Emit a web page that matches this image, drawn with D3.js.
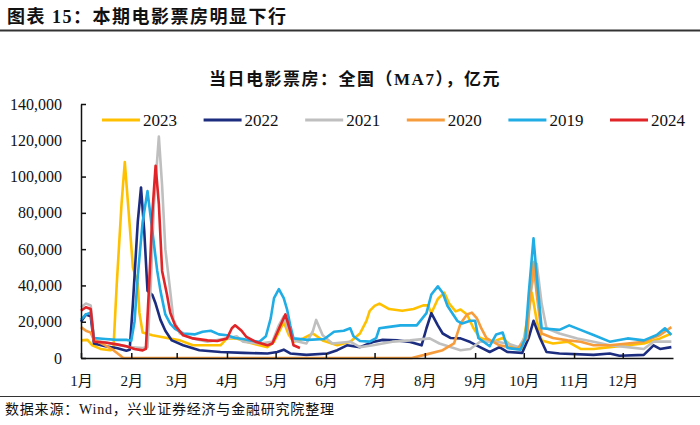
<!DOCTYPE html>
<html><head><meta charset="utf-8">
<script src="https://cdn.jsdelivr.net/npm/d3@7"></script>
<style>
body{margin:0;background:#fff;}
svg{display:block;}
</style></head>
<body>
<svg id="c" width="700" height="425"></svg>
<script>
// ---- data (day of year, value) ----
const monthLabels = ["1月","2月","3月","4月","5月","6月","7月","8月","9月","10月","11月","12月"];
const monthStarts = [0,31,59,90,120,151,181,212,243,273,304,334];
const yTicks = [0,20000,40000,60000,80000,100000,120000,140000];
const seriesNames = ["2023","2022","2021","2020","2019","2024"];

const s2023 = [[0,9700],[4,10000],[7,7000],[12,5000],[18,4300],[20,5000],[22,40000],[25,85000],[27,108000],[29,85000],[32,50000],[35,41000],[36,25000],[38,14000],[44,12500],[53,11000],[61,9700],[69,7000],[78,7000],[86,7000],[90,10800],[96,10800],[102,9000],[110,7000],[115,6000],[119,9000],[123,16000],[125,20000],[128,13000],[131,9000],[137,10800],[143,13500],[149,9700],[158,7000],[166,9000],[172,13500],[176,20500],[178,26000],[181,28700],[184,30000],[190,27000],[198,26000],[205,27000],[211,29000],[214,29000],[216,24700],[220,32500],[224,36000],[227,30000],[231,25700],[234,26700],[238,24000],[242,16400],[246,11000],[254,9000],[260,11000],[266,6000],[272,5000],[275,20500],[278,36000],[281,20500],[284,9700],[291,8000],[300,9000],[308,5000],[316,5000],[326,6000],[337,7000],[347,8000],[357,10800],[364,13500]];
const s2022 = [[0,20000],[3,24000],[6,23000],[8,8000],[15,6500],[22,5500],[28,4000],[30,4500],[32,30000],[35,75000],[37,94000],[39,70000],[41,37000],[44,34700],[46,30000],[49,21000],[52,15000],[56,9700],[63,7000],[73,4300],[86,3300],[100,2800],[115,2500],[121,3300],[125,4600],[129,2500],[139,1700],[152,2500],[158,4300],[164,7000],[172,6000],[180,8800],[186,10000],[195,9700],[203,8800],[210,7000],[213,16400],[216,24700],[220,18000],[223,13500],[228,11000],[234,10800],[240,8800],[246,6000],[252,3300],[258,6000],[263,3300],[272,2800],[276,11000],[279,20500],[283,11000],[287,3300],[295,2500],[316,1700],[326,2500],[332,1200],[347,1700],[353,7000],[357,5000],[364,6000]];
const s2021 = [[0,28000],[3,30000],[6,29000],[8,10000],[15,8500],[22,7500],[30,6000],[38,5500],[41,6000],[43,40000],[45,85000],[48,122000],[50,95000],[52,60000],[55,37000],[57,21000],[61,13600],[69,10800],[78,9000],[90,10800],[96,12000],[100,9000],[110,8000],[118,9000],[122,18000],[125,23000],[128,15000],[131,9700],[139,8000],[143,15000],[145,21000],[149,12500],[155,8000],[166,9000],[172,6000],[180,7000],[192,9000],[203,9700],[215,10800],[221,8000],[234,4300],[240,5000],[246,9000],[256,9000],[263,8000],[270,6000],[274,12000],[278,40000],[281,52000],[284,30000],[287,16400],[295,13500],[306,10800],[316,9000],[326,7000],[337,6000],[347,5000],[353,9000],[364,9000]];
const s2020 = [[0,17000],[3,15000],[6,14000],[8,10000],[15,7000],[20,4300],[24,1500],[26,0],[100,0],[204,0],[213,2000],[223,4300],[230,8000],[234,19000],[238,24000],[241,25000],[244,22000],[247,16000],[250,11000],[258,7000],[269,5000],[275,11000],[277,35000],[279,53000],[281,35000],[284,13500],[291,11000],[300,9700],[308,9000],[316,7000],[326,7000],[337,8000],[347,9000],[357,12700],[364,17000]];
const s2019 = [[0,21000],[3,24000],[6,25000],[8,11000],[15,10500],[22,10000],[28,10000],[31,9500],[33,20000],[35,45000],[38,75000],[41,92000],[44,70000],[47,48000],[49,37000],[52,24000],[55,19000],[58,16000],[63,13500],[70,13000],[75,14500],[80,15000],[85,13000],[90,12500],[95,11000],[100,10500],[105,9500],[110,9000],[114,12000],[117,22000],[119,33000],[122,38000],[125,33000],[127,27000],[129,18000],[131,10800],[140,10000],[150,10500],[156,14500],[162,15000],[166,16400],[168,12000],[172,9400],[178,9000],[182,11000],[184,16400],[189,17000],[197,18000],[207,18000],[213,24700],[216,35000],[220,39500],[223,36000],[226,28700],[232,20500],[235,19000],[240,20500],[243,20500],[245,11000],[252,6500],[256,13000],[260,14000],[263,5500],[271,4600],[274,11000],[276,35000],[279,66000],[281,45000],[284,16400],[295,15500],[301,18000],[308,15500],[316,12700],[326,9000],[337,10800],[347,9700],[355,12700],[360,16400],[364,12700]];
const s2024 = [[0,26000],[3,28000],[6,27000],[8,9000],[15,8500],[22,7500],[28,6500],[33,5000],[38,4200],[40,5000],[42,40000],[44,80000],[46,106000],[48,85000],[50,48000],[53,35000],[55,25000],[58,18000],[63,12500],[69,10800],[78,9700],[84,9400],[90,10800],[93,16400],[95,18000],[99,15000],[102,11600],[108,8800],[115,7000],[118,8000],[123,18000],[126,24000],[129,15000],[131,7000],[135,5500]];

const seriesData = [s2023,s2022,s2021,s2020,s2019,s2024];
const colors = ["#FFC000","#1C2D80","#BFBFBF","#F79C3C","#20ACE4","#E02427"];

// ---- drawing ----
const svg = d3.select("#c");
const serif = "'Liberation Serif','Times New Roman','Noto Sans CJK SC',serif";
const cjk = "'Liberation Serif','Noto Sans CJK SC',sans-serif";

// header
svg.append("text").attr("x",7).attr("y",23)
  .attr("font-family",cjk).attr("font-size",18).attr("font-weight","bold")
  .attr("letter-spacing",1.5).attr("fill","#111")
  .text("图表 15：本期电影票房明显下行");
svg.append("line").attr("x1",0).attr("x2",700).attr("y1",30.5).attr("y2",30.5)
  .attr("stroke","#333").attr("stroke-width",2);

// chart title
svg.append("text").attr("x",355).attr("y",85).attr("text-anchor","middle")
  .attr("font-family",cjk).attr("font-size",17).attr("font-weight","bold")
  .attr("letter-spacing",1.5).attr("fill","#111")
  .text("当日电影票房：全国（MA7），亿元");

const x = d3.scaleLinear().domain([0,365]).range([81,673]);
const y = d3.scaleLinear().domain([0,140000]).range([358,104]);

// lines
const line = d3.line().x(d=>x(d[0])).y(d=>y(d[1]));
seriesData.forEach((s,i)=>{
  svg.append("path").datum(s).attr("d",line)
    .attr("fill","none").attr("stroke",colors[i]).attr("stroke-width",2.6)
    .attr("stroke-linejoin","round");
});

// axes
const yAxis = d3.axisLeft(y).tickValues(yTicks).tickFormat(d3.format(",")).tickSizeInner(-5).tickSizeOuter(0).tickPadding(19);
const gy = svg.append("g").attr("transform","translate(81,0)").call(yAxis);
gy.selectAll("text").attr("font-family",serif).attr("font-size",16).attr("fill","#111");
gy.selectAll("line,path").attr("stroke","#111").attr("stroke-width",1.5);

const xAxis = d3.axisBottom(x).tickValues(monthStarts).tickFormat((d,i)=>monthLabels[i]).tickSizeInner(-5).tickSizeOuter(0).tickPadding(17);
const gx = svg.append("g").attr("transform","translate(0,358)").call(xAxis);
gx.selectAll("text").attr("font-family",cjk).attr("font-size",15).attr("fill","#111");
gx.selectAll("line,path").attr("stroke","#111").attr("stroke-width",1.5);

// legend
const legend = svg.append("g");
seriesNames.forEach((n,i)=>{
  const lx = 102 + i*101.6;
  legend.append("line").attr("x1",lx).attr("x2",lx+38).attr("y1",120).attr("y2",120)
    .attr("stroke",colors[i]).attr("stroke-width",3);
  legend.append("text").attr("x",lx+41).attr("y",126)
    .attr("font-family",serif).attr("font-size",17).attr("fill","#111").text(n);
});

// footer
svg.append("line").attr("x1",0).attr("x2",700).attr("y1",396.5).attr("y2",396.5)
  .attr("stroke","#333").attr("stroke-width",1.2);
svg.append("text").attr("x",5).attr("y",414)
  .attr("font-family",cjk).attr("font-size",14).attr("letter-spacing",0.8).attr("fill","#111")
  .text("数据来源：Wind，兴业证券经济与金融研究院整理");
</script>
</body></html>
